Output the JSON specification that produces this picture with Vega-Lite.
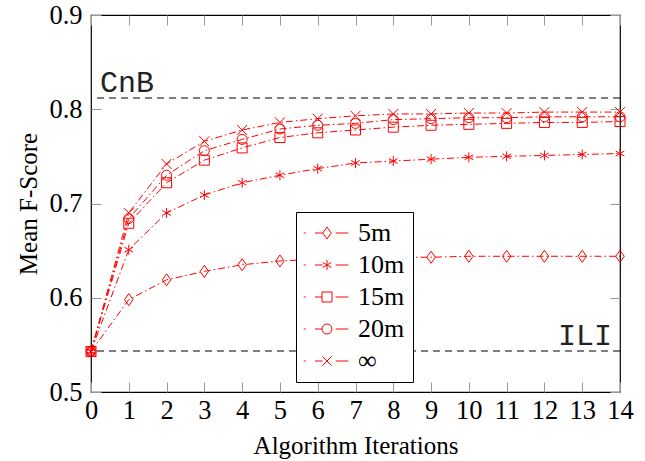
{
  "$schema": "https://vega.github.io/schema/vega-lite/v6.json",
  "width": 529,
  "height": 377,
  "autosize": {"type": "none"},
  "padding": {"left": 91, "top": 15, "right": 25, "bottom": 69},
  "background": "white",
  "config": {
    "view": {"stroke": "black", "strokeWidth": 1.2},
    "font": "Liberation Serif",
    "style": {
      "guide-label": {"font": "Liberation Serif", "fill": "black"},
      "guide-title": {"font": "Liberation Serif", "fill": "black"}
    },
    "axis": {
      "grid": false,
      "domain": false,
      "tickColor": "#999999",
      "tickSize": 10,
      "tickWidth": 1,
      "offset": -10,
      "labelOverlap": false,
      "labelFlush": false,
      "labelFont": "Liberation Serif",
      "labelFontSize": 26.5,
      "labelColor": "black",
      "titleFont": "Liberation Serif",
      "titleFontSize": 25,
      "titleFontWeight": "normal",
      "titleColor": "black"
    },
    "legend": {
      "strokeColor": "black",
      "fillColor": "white",
      "padding": 8,
      "cornerRadius": 0,
      "labelFont": "Liberation Serif"
    }
  },
  "datasets": {
    "scores": [
      {"iter": 0, "series": "5m", "score": 0.543},
      {"iter": 1, "series": "5m", "score": 0.598},
      {"iter": 2, "series": "5m", "score": 0.619},
      {"iter": 3, "series": "5m", "score": 0.628},
      {"iter": 4, "series": "5m", "score": 0.635},
      {"iter": 5, "series": "5m", "score": 0.639},
      {"iter": 6, "series": "5m", "score": 0.641},
      {"iter": 7, "series": "5m", "score": 0.642},
      {"iter": 8, "series": "5m", "score": 0.643},
      {"iter": 9, "series": "5m", "score": 0.643},
      {"iter": 10, "series": "5m", "score": 0.644},
      {"iter": 11, "series": "5m", "score": 0.644},
      {"iter": 12, "series": "5m", "score": 0.644},
      {"iter": 13, "series": "5m", "score": 0.644},
      {"iter": 14, "series": "5m", "score": 0.644},
      {"iter": 0, "series": "10m", "score": 0.543},
      {"iter": 1, "series": "10m", "score": 0.651},
      {"iter": 2, "series": "10m", "score": 0.690},
      {"iter": 3, "series": "10m", "score": 0.709},
      {"iter": 4, "series": "10m", "score": 0.722},
      {"iter": 5, "series": "10m", "score": 0.730},
      {"iter": 6, "series": "10m", "score": 0.737},
      {"iter": 7, "series": "10m", "score": 0.743},
      {"iter": 8, "series": "10m", "score": 0.745},
      {"iter": 9, "series": "10m", "score": 0.747},
      {"iter": 10, "series": "10m", "score": 0.749},
      {"iter": 11, "series": "10m", "score": 0.750},
      {"iter": 12, "series": "10m", "score": 0.751},
      {"iter": 13, "series": "10m", "score": 0.752},
      {"iter": 14, "series": "10m", "score": 0.753},
      {"iter": 0, "series": "15m", "score": 0.543},
      {"iter": 1, "series": "15m", "score": 0.679},
      {"iter": 2, "series": "15m", "score": 0.722},
      {"iter": 3, "series": "15m", "score": 0.746},
      {"iter": 4, "series": "15m", "score": 0.759},
      {"iter": 5, "series": "15m", "score": 0.770},
      {"iter": 6, "series": "15m", "score": 0.775},
      {"iter": 7, "series": "15m", "score": 0.778},
      {"iter": 8, "series": "15m", "score": 0.781},
      {"iter": 9, "series": "15m", "score": 0.783},
      {"iter": 10, "series": "15m", "score": 0.784},
      {"iter": 11, "series": "15m", "score": 0.785},
      {"iter": 12, "series": "15m", "score": 0.786},
      {"iter": 13, "series": "15m", "score": 0.786},
      {"iter": 14, "series": "15m", "score": 0.787},
      {"iter": 0, "series": "20m", "score": 0.543},
      {"iter": 1, "series": "20m", "score": 0.684},
      {"iter": 2, "series": "20m", "score": 0.730},
      {"iter": 3, "series": "20m", "score": 0.756},
      {"iter": 4, "series": "20m", "score": 0.768},
      {"iter": 5, "series": "20m", "score": 0.779},
      {"iter": 6, "series": "20m", "score": 0.783},
      {"iter": 7, "series": "20m", "score": 0.785},
      {"iter": 8, "series": "20m", "score": 0.789},
      {"iter": 9, "series": "20m", "score": 0.790},
      {"iter": 10, "series": "20m", "score": 0.791},
      {"iter": 11, "series": "20m", "score": 0.791},
      {"iter": 12, "series": "20m", "score": 0.792},
      {"iter": 13, "series": "20m", "score": 0.792},
      {"iter": 14, "series": "20m", "score": 0.792},
      {"iter": 0, "series": "∞", "score": 0.543},
      {"iter": 1, "series": "∞", "score": 0.690},
      {"iter": 2, "series": "∞", "score": 0.742},
      {"iter": 3, "series": "∞", "score": 0.766},
      {"iter": 4, "series": "∞", "score": 0.778},
      {"iter": 5, "series": "∞", "score": 0.786},
      {"iter": 6, "series": "∞", "score": 0.790},
      {"iter": 7, "series": "∞", "score": 0.793},
      {"iter": 8, "series": "∞", "score": 0.795},
      {"iter": 9, "series": "∞", "score": 0.795},
      {"iter": 10, "series": "∞", "score": 0.796},
      {"iter": 11, "series": "∞", "score": 0.796},
      {"iter": 12, "series": "∞", "score": 0.797},
      {"iter": 13, "series": "∞", "score": 0.797},
      {"iter": 14, "series": "∞", "score": 0.797}
    ],
    "refs": [
      {"label": "CnB", "iter": 0, "score": 0.812},
      {"label": "ILI", "iter": 14, "score": 0.5435}
    ]
  },
  "resolve": {"scale": {"shape": "independent", "x": "independent", "y": "independent"}, "axis": {"x": "independent", "y": "independent"}},
  "layer": [
    {
      "data": {"name": "refs"},
      "mark": {"type": "rule", "color": "black", "strokeWidth": 1.1, "strokeDash": [7, 5]},
      "encoding": {
        "y": {"field": "score", "type": "quantitative", "axis": null, "scale": {"domain": [0.5, 0.9], "nice": false, "zero": false}}
      }
    },
    {
      "data": {"name": "refs"},
      "transform": [{"filter": "datum.label == 'CnB'"}],
      "mark": {"type": "text", "font": "Liberation Mono", "fontSize": 30, "align": "left", "baseline": "alphabetic", "dx": 9, "dy": -6, "color": "#222222"},
      "encoding": {
        "x": {"field": "iter", "type": "quantitative", "axis": null, "scale": {"domain": [0, 14], "nice": false, "zero": false}},
        "y": {"field": "score", "type": "quantitative", "axis": null, "scale": {"domain": [0.5, 0.9], "nice": false, "zero": false}},
        "text": {"field": "label"}
      }
    },
    {
      "data": {"name": "refs"},
      "transform": [{"filter": "datum.label == 'ILI'"}],
      "mark": {"type": "text", "font": "Liberation Mono", "fontSize": 30, "align": "right", "baseline": "alphabetic", "dx": -8, "dy": -6, "color": "#222222"},
      "encoding": {
        "x": {"field": "iter", "type": "quantitative", "axis": null, "scale": {"domain": [0, 14], "nice": false, "zero": false}},
        "y": {"field": "score", "type": "quantitative", "axis": null, "scale": {"domain": [0.5, 0.9], "nice": false, "zero": false}},
        "text": {"field": "label"}
      }
    },
    {
      "data": {"name": "scores"},
      "mark": {"type": "line", "color": "#ff0000", "strokeWidth": 1, "strokeDash": [7, 3, 1.5, 3]},
      "encoding": {
        "x": {
          "field": "iter",
          "type": "quantitative",
          "scale": {"domain": [0, 14], "nice": false, "zero": false},
          "axis": {"orient": "top", "values": [0,1,2,3,4,5,6,7,8,9,10,11,12,13,14], "labels": false, "title": null, "ticks": true}
        },
        "y": {
          "field": "score",
          "type": "quantitative",
          "scale": {"domain": [0.5, 0.9], "nice": false, "zero": false},
          "axis": {"orient": "right", "values": [0.5, 0.6, 0.7, 0.8, 0.9], "labels": false, "title": null, "ticks": true}
        },
        "detail": {"field": "series"}
      }
    },
    {
      "data": {"name": "scores"},
      "mark": {"type": "point", "filled": false, "color": "#ff0000", "strokeWidth": 1, "size": 100, "opacity": 1},
      "encoding": {
        "x": {"field": "iter", "type": "quantitative", "axis": null, "scale": {"domain": [0, 14], "nice": false, "zero": false}},
        "y": {"field": "score", "type": "quantitative", "axis": null, "scale": {"domain": [0.5, 0.9], "nice": false, "zero": false}},
        "shape": {
          "field": "series",
          "type": "nominal",
          "legend": null,
          "scale": {
            "domain": ["5m", "10m", "15m", "20m", "∞"],
            "range": [
              "M0,-1.2L0.85,0L0,1.2L-0.85,0Z",
              "M0,-1L0,1M-0.87,-0.5L0.87,0.5M-0.87,0.5L0.87,-0.5",
              "M-1,-1L1,-1L1,1L-1,1Z",
              "M1,0A1,1,0,1,1,-1,0A1,1,0,1,1,1,0Z",
              "M-1,-1L1,1M-1,1L1,-1"
            ]
          }
        }
      }
    },
    {
      "data": {"name": "scores"},
      "mark": {"type": "point", "filled": false, "color": "#ff0000", "strokeWidth": 1, "size": 100, "opacity": 0},
      "encoding": {
        "x": {
          "field": "iter",
          "type": "quantitative",
          "scale": {"domain": [0, 14], "nice": false, "zero": false},
          "axis": {"orient": "bottom", "values": [0,1,2,3,4,5,6,7,8,9,10,11,12,13,14], "title": "Algorithm Iterations", "labelPadding": 5, "titlePadding": 10, "labelFont": "Liberation Serif"}
        },
        "y": {
          "field": "score",
          "type": "quantitative",
          "scale": {"domain": [0.5, 0.9], "nice": false, "zero": false},
          "axis": {"orient": "left", "values": [0.5, 0.6, 0.7, 0.8, 0.9], "format": ".1f", "title": "Mean F-Score", "labelPadding": 9, "titlePadding": 7, "labelFont": "Liberation Serif"}
        },
        "shape": {
          "field": "series",
          "type": "nominal",
          "scale": {
            "domain": ["5m", "10m", "15m", "20m", "∞"],
            "range": [
              "M-4.66,0L-4.27,0M-2.4,0L-0.85,0M1.73,0L4.27,0M0,-1.2L0.85,0L0,1.2L-0.85,0Z",
              "M-4.66,0L-4.27,0M-2.4,0L-0.9,0M1.73,0L4.27,0M0,-1L0,1M-0.87,-0.5L0.87,0.5M-0.87,0.5L0.87,-0.5",
              "M-4.66,0L-4.27,0M-2.4,0L-1,0M1.73,0L4.27,0M-1,-1L1,-1L1,1L-1,1Z",
              "M-4.66,0L-4.27,0M-2.4,0L-1,0M1.73,0L4.27,0M1,0A1,1,0,1,1,-1,0A1,1,0,1,1,1,0Z",
              "M-4.66,0L-4.27,0M-2.4,0L-0.9,0M1.73,0L4.27,0M-0.9,-0.9L0.9,0.9M-0.9,0.9L0.9,-0.9"
            ]
          },
          "legend": {
            "title": null,
            "orient": "none",
            "legendX": 205,
            "legendY": 197,
            "symbolSize": 100,
            "symbolStrokeColor": "#ff0000",
            "symbolFillColor": "white",
            "symbolStrokeWidth": 1,
            "symbolOpacity": 1,
            "symbolOffset": 10,
            "labelOffset": 18,
            "labelFont": "Liberation Serif",
            "labelFontSize": 26,
            "labelColor": "black",
            "rowPadding": 6
          }
        }
      }
    }
  ]
}
